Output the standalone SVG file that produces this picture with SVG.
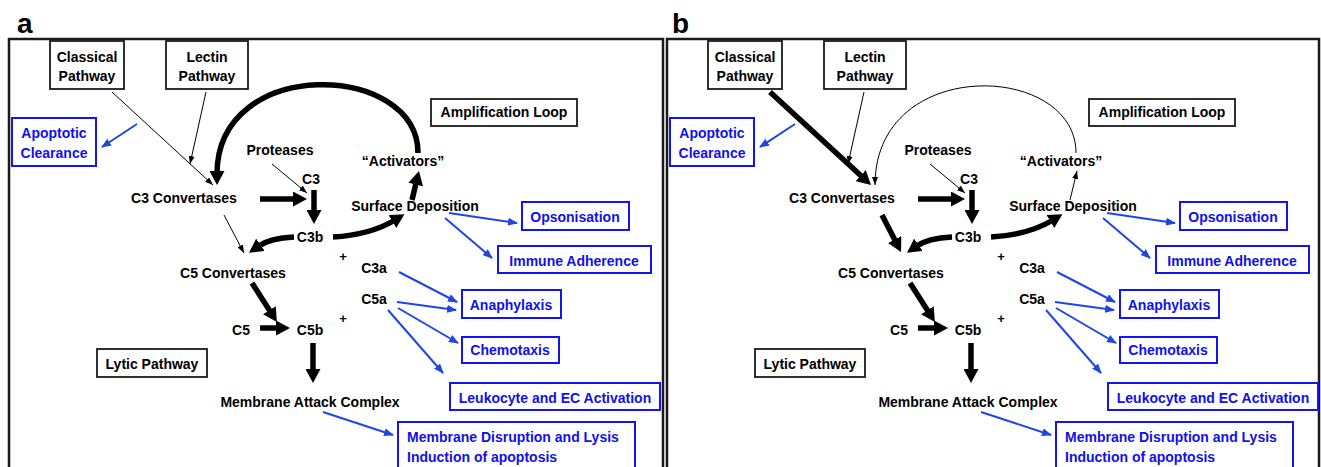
<svg xmlns="http://www.w3.org/2000/svg" width="1321" height="467" viewBox="0 0 1321 467">
<style>
.frame{fill:none;stroke:#1a1a1a;stroke-width:2.5}
.box{fill:#fff;stroke:#1a1a1a;stroke-width:1.8}
.bbox{fill:#fff;stroke:#1414ee;stroke-width:2}
.t{font-family:"Liberation Sans",Arial,sans-serif;font-weight:bold;font-size:14px;fill:#000;text-anchor:middle}
.tb{font-family:"Liberation Sans",Arial,sans-serif;font-weight:bold;font-size:14px;fill:#1010ee;text-anchor:middle}
.tl{text-anchor:start}
.lbl{font-family:"Liberation Sans",Arial,sans-serif;font-weight:bold;font-size:28px;fill:#000}
.plus{font-family:"Liberation Sans",Arial,sans-serif;font-weight:bold;font-size:13px;fill:#000;text-anchor:middle}
.thick{fill:none;stroke:#000;stroke-width:5.5;marker-end:url(#ahk)}
.thin{fill:none;stroke:#000;stroke-width:1;marker-end:url(#ahn)}
.blue{fill:none;stroke:#1e46e6;stroke-width:2;marker-end:url(#ahb)}
</style>
<defs>
<marker id="ahk" viewBox="0 0 14 15" markerWidth="14" markerHeight="15" refX="3" refY="7.5" orient="auto" markerUnits="userSpaceOnUse"><path d="M0,0 L14,7.5 L0,15 z" fill="#000"/></marker>
<marker id="ahn" viewBox="0 0 8 6" markerWidth="8" markerHeight="6" refX="8" refY="3" orient="auto" markerUnits="userSpaceOnUse"><path d="M0,0 L8,3 L0,6 z" fill="#000"/></marker>
<marker id="ahb" viewBox="0 0 10 8" markerWidth="10" markerHeight="8" refX="9" refY="4" orient="auto" markerUnits="userSpaceOnUse"><path d="M0,0 L10,4 L0,8 z" fill="#1e46e6"/></marker>
</defs>
<rect width="1321" height="467" fill="#fff"/>

<!-- Panel a -->
<g id="panel-a">
<text class="lbl" x="17" y="33">a</text>
<rect class="frame" x="9" y="39" width="654" height="440"/>
<g id="a-connectors">
<path class="thin" d="M112,92 L213,185"/>
<path class="thin" d="M206,92 L190,164"/>
<path class="thick" d="M418,153 C418,62 217,55 217,174"/>
<path class="thin" d="M272,164 L307,193"/>
<path class="thick" d="M260,199 H296"/>
<path class="thick" d="M314,190 V213"/>
<path class="thick" d="M294,237 Q270,238 258,246.5"/>
<path class="thick" d="M333,237 Q370,235 395,220"/>
<path class="thick" d="M412,200 L416.4,181.7"/>
<path class="thin" d="M224,215 L244,253"/>
<path class="thick" d="M252,283 L271,312.7"/>
<path class="thick" d="M260,328 H279"/>
<path class="thick" d="M313,343 V372"/>
<path class="blue" d="M137,124 L102,147"/>
<path class="blue" d="M449,213 L517,223"/>
<path class="blue" d="M445,218 L492,258"/>
<path class="blue" d="M399,272 L457,302"/>
<path class="blue" d="M397,302 L456,310"/>
<path class="blue" d="M398,308 L458,343"/>
<path class="blue" d="M388,310 L443,373"/>
<path class="blue" d="M323,412 L393,435"/>
</g>
<g id="a-classical"><rect class="box" x="50" y="41" width="74" height="48"/><text class="t" x="87" y="62">Classical</text><text class="t" x="87" y="81">Pathway</text></g>
<g id="a-lectin"><rect class="box" x="166" y="41" width="82" height="48"/><text class="t" x="207" y="62">Lectin</text><text class="t" x="207" y="81">Pathway</text></g>
<g id="a-apoptotic"><rect class="bbox" x="12" y="118" width="84" height="48"/><text class="tb" x="54" y="138">Apoptotic</text><text class="tb" x="54" y="158">Clearance</text></g>
<g id="a-amplification"><rect class="box" x="431" y="99" width="146" height="27"/><text class="t" x="504" y="117">Amplification Loop</text></g>
<g id="a-proteases"><text class="t" x="280" y="155">Proteases</text></g>
<g id="a-c3"><text class="t" x="311" y="184">C3</text></g>
<g id="a-c3conv"><text class="t" x="184" y="203">C3 Convertases</text></g>
<g id="a-activators"><text class="t" x="403" y="166">“Activators”</text></g>
<g id="a-surface"><text class="t" x="415" y="211">Surface Deposition</text></g>
<g id="a-c3b"><text class="t" x="310" y="242">C3b</text></g>
<g id="a-plus1"><text class="plus" x="343" y="261">+</text></g>
<g id="a-c5conv"><text class="t" x="233" y="278">C5 Convertases</text></g>
<g id="a-c3a"><text class="t" x="374" y="273">C3a</text></g>
<g id="a-c5a"><text class="t" x="374" y="304">C5a</text></g>
<g id="a-plus2"><text class="plus" x="343" y="323">+</text></g>
<g id="a-c5"><text class="t" x="241" y="335">C5</text></g>
<g id="a-c5b"><text class="t" x="310" y="335">C5b</text></g>
<g id="a-lytic"><rect class="box" x="97" y="349" width="110" height="28"/><text class="t" x="152" y="369">Lytic Pathway</text></g>
<g id="a-mac"><text class="t" x="310" y="407">Membrane Attack Complex</text></g>
<g id="a-opsonisation"><rect class="bbox" x="522" y="202" width="107" height="28"/><text class="tb" x="575" y="222">Opsonisation</text></g>
<g id="a-immune"><rect class="bbox" x="498" y="246" width="153" height="27"/><text class="tb" x="574" y="266">Immune Adherence</text></g>
<g id="a-anaphylaxis"><rect class="bbox" x="462" y="290" width="99" height="28"/><text class="tb" x="511" y="310">Anaphylaxis</text></g>
<g id="a-chemotaxis"><rect class="bbox" x="462" y="337" width="97" height="26"/><text class="tb" x="510" y="355">Chemotaxis</text></g>
<g id="a-leukocyte"><rect class="bbox" x="450" y="383" width="210" height="27"/><text class="tb" x="555" y="403">Leukocyte and EC Activation</text></g>
<g id="a-membrane"><rect class="bbox" x="398" y="422" width="237" height="60"/><text class="tb tl" x="407" y="442">Membrane Disruption and Lysis</text><text class="tb tl" x="407" y="462">Induction of apoptosis</text></g>
</g>

<!-- Panel b -->
<g id="panel-b" transform="translate(658,0)">
<text class="lbl" x="14" y="33">b</text>
<rect class="frame" x="9" y="39" width="652" height="440"/>
<g id="b-connectors">
<path class="thick" d="M112,92 L204.9,177.6"/>
<path class="thin" d="M206,92 L190,164"/>
<path class="thin" d="M418,153 C418,62 217,55 217,185"/>
<path class="thin" d="M272,164 L307,193"/>
<path class="thick" d="M260,199 H296"/>
<path class="thick" d="M314,190 V213"/>
<path class="thick" d="M294,237 Q270,238 258,246.5"/>
<path class="thick" d="M333,237 Q370,235 395,220"/>
<path class="thin" d="M412,200 L419,171"/>
<path class="thick" d="M224,215 L238,242.2"/>
<path class="thick" d="M252,283 L271,312.7"/>
<path class="thick" d="M260,328 H279"/>
<path class="thick" d="M313,343 V372"/>
<path class="blue" d="M137,124 L102,147"/>
<path class="blue" d="M449,213 L517,223"/>
<path class="blue" d="M445,218 L492,258"/>
<path class="blue" d="M399,272 L457,302"/>
<path class="blue" d="M397,302 L456,310"/>
<path class="blue" d="M398,308 L458,343"/>
<path class="blue" d="M388,310 L443,373"/>
<path class="blue" d="M323,412 L393,435"/>
</g>
<g id="b-classical"><rect class="box" x="50" y="41" width="74" height="48"/><text class="t" x="87" y="62">Classical</text><text class="t" x="87" y="81">Pathway</text></g>
<g id="b-lectin"><rect class="box" x="166" y="41" width="82" height="48"/><text class="t" x="207" y="62">Lectin</text><text class="t" x="207" y="81">Pathway</text></g>
<g id="b-apoptotic"><rect class="bbox" x="12" y="118" width="84" height="48"/><text class="tb" x="54" y="138">Apoptotic</text><text class="tb" x="54" y="158">Clearance</text></g>
<g id="b-amplification"><rect class="box" x="431" y="99" width="146" height="27"/><text class="t" x="504" y="117">Amplification Loop</text></g>
<g id="b-proteases"><text class="t" x="280" y="155">Proteases</text></g>
<g id="b-c3"><text class="t" x="311" y="184">C3</text></g>
<g id="b-c3conv"><text class="t" x="184" y="203">C3 Convertases</text></g>
<g id="b-activators"><text class="t" x="403" y="166">“Activators”</text></g>
<g id="b-surface"><text class="t" x="415" y="211">Surface Deposition</text></g>
<g id="b-c3b"><text class="t" x="310" y="242">C3b</text></g>
<g id="b-plus1"><text class="plus" x="343" y="261">+</text></g>
<g id="b-c5conv"><text class="t" x="233" y="278">C5 Convertases</text></g>
<g id="b-c3a"><text class="t" x="374" y="273">C3a</text></g>
<g id="b-c5a"><text class="t" x="374" y="304">C5a</text></g>
<g id="b-plus2"><text class="plus" x="343" y="323">+</text></g>
<g id="b-c5"><text class="t" x="241" y="335">C5</text></g>
<g id="b-c5b"><text class="t" x="310" y="335">C5b</text></g>
<g id="b-lytic"><rect class="box" x="97" y="349" width="110" height="28"/><text class="t" x="152" y="369">Lytic Pathway</text></g>
<g id="b-mac"><text class="t" x="310" y="407">Membrane Attack Complex</text></g>
<g id="b-opsonisation"><rect class="bbox" x="522" y="202" width="107" height="28"/><text class="tb" x="575" y="222">Opsonisation</text></g>
<g id="b-immune"><rect class="bbox" x="498" y="246" width="153" height="27"/><text class="tb" x="574" y="266">Immune Adherence</text></g>
<g id="b-anaphylaxis"><rect class="bbox" x="462" y="290" width="99" height="28"/><text class="tb" x="511" y="310">Anaphylaxis</text></g>
<g id="b-chemotaxis"><rect class="bbox" x="462" y="337" width="97" height="26"/><text class="tb" x="510" y="355">Chemotaxis</text></g>
<g id="b-leukocyte"><rect class="bbox" x="450" y="383" width="210" height="27"/><text class="tb" x="555" y="403">Leukocyte and EC Activation</text></g>
<g id="b-membrane"><rect class="bbox" x="398" y="422" width="237" height="60"/><text class="tb tl" x="407" y="442">Membrane Disruption and Lysis</text><text class="tb tl" x="407" y="462">Induction of apoptosis</text></g>
</g>
</svg>
